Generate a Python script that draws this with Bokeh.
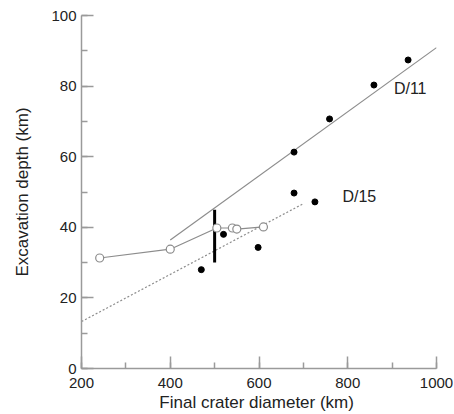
from bokeh.plotting import figure
from bokeh.models import Range1d, SingleIntervalTicker, Label
from bokeh.embed import file_html
from bokeh.resources import INLINE

# Data
open_x = [241, 400, 505, 540, 550, 610]
open_y = [31.3, 33.8, 39.8, 39.8, 39.5, 40.1]
filled_x = [470, 520, 598, 679, 726, 679, 759, 859, 936]
filled_y = [28.0, 38.0, 34.3, 49.7, 47.2, 61.3, 70.7, 80.3, 87.4]
d11_x = [400, 1000]
d11_y = [36.4, 90.9]
d15_x = [200, 700]
d15_y = [13.3, 46.7]
bar_x = [500, 500]
bar_y = [30, 45]

FONT = "Liberation Sans"
TXT = "#222222"
AX = "#9a9a9a"

p = figure(width=454, height=414, output_backend="svg", toolbar_location=None,
           x_range=Range1d(200, 1000), y_range=Range1d(0, 100),
           min_border_left=81, min_border_right=18, min_border_top=15, min_border_bottom=45)
p.outline_line_color = None
p.xgrid.visible = False
p.ygrid.visible = False

p.xaxis.ticker = SingleIntervalTicker(interval=200, num_minor_ticks=2)
p.yaxis.ticker = SingleIntervalTicker(interval=20, num_minor_ticks=2)
for ax in (p.xaxis, p.yaxis):
    ax.axis_line_color = AX
    ax.axis_line_width = 1.5
    ax.major_tick_line_color = AX
    ax.minor_tick_line_color = AX
    ax.major_tick_line_width = 1.5
    ax.minor_tick_line_width = 1.5
    ax.major_tick_in = 12
    ax.major_tick_out = 0
    ax.minor_tick_in = 6
    ax.minor_tick_out = 0
    ax.major_label_text_font = FONT
    ax.major_label_text_font_size = "15px"
    ax.major_label_text_color = TXT
    ax.axis_label_text_font = FONT
    ax.axis_label_text_font_size = "17px"
    ax.axis_label_text_font_style = "normal"
    ax.axis_label_text_color = TXT

p.yaxis.major_label_standoff = 5
p.xaxis.major_label_standoff = 9
p.yaxis.axis_label = "Excavation depth (km)"
p.yaxis.axis_label_standoff = 16
p.xaxis.axis_label = "Final crater diameter  (km)"
p.xaxis.axis_label_standoff = 2

# lines
p.line(d11_x, d11_y, line_color="#8c8c8c", line_width=1.2)
p.line(d15_x, d15_y, line_color="#8c8c8c", line_width=1.2, line_dash="2 2")
p.line(open_x, open_y, line_color="#8c8c8c", line_width=1.2)
p.line(bar_x, bar_y, line_color="black", line_width=3)

p.scatter(open_x, open_y, size=8, marker="circle", fill_color="white",
          line_color="#8c8c8c", line_width=1.2)
p.scatter(filled_x, filled_y, size=6, marker="circle", fill_color="black",
          line_color="black")

p.add_layout(Label(x=904, y=76.8, text="D/11", text_font=FONT, text_font_size="16px",
                   text_color=TXT))
p.add_layout(Label(x=788, y=46.2, text="D/15", text_font=FONT, text_font_size="16px",
                   text_color=TXT))

open("out.html", "w").write(file_html(p, INLINE))
